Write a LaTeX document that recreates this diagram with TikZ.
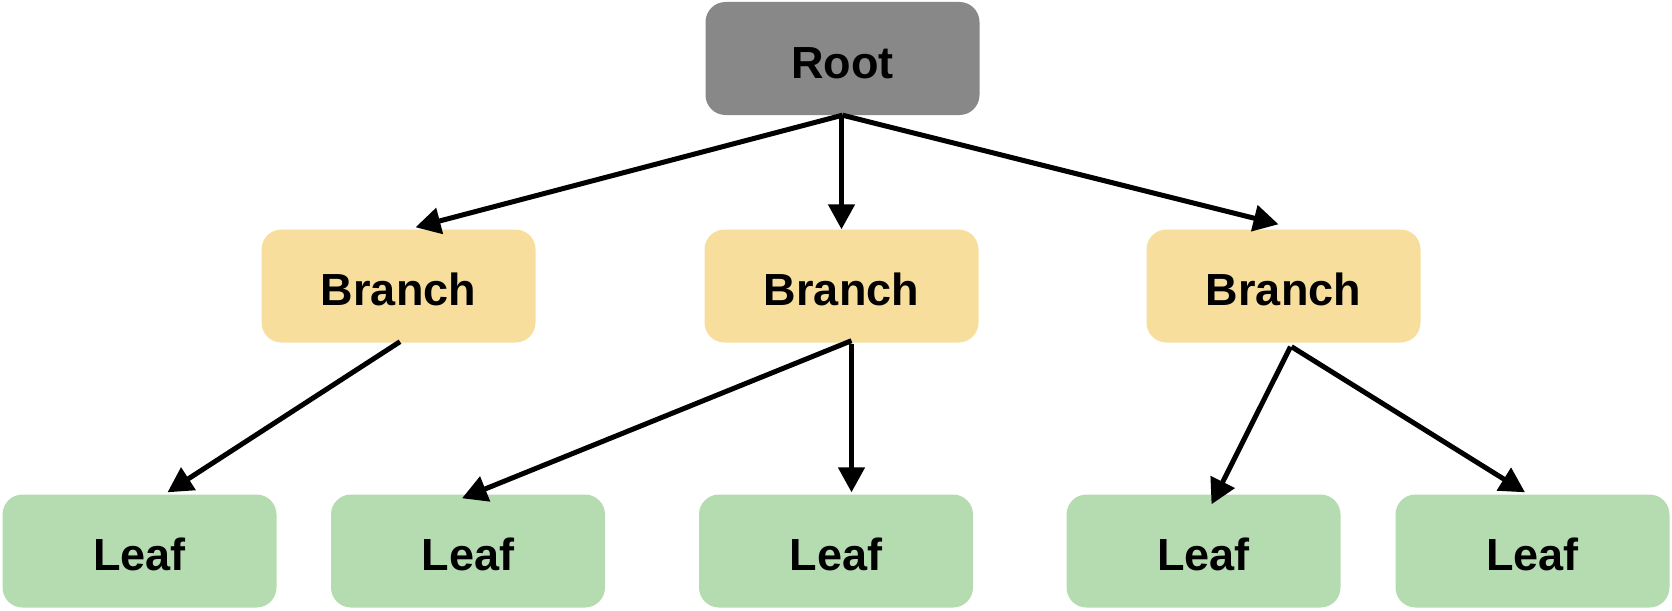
\documentclass[tikz,border=0pt]{standalone}
\usepackage{fontspec}
\setmainfont{Liberation Sans}
\usetikzlibrary{arrows.meta,calc}
\definecolor{rootgray}{HTML}{888888}
\definecolor{branchyel}{HTML}{F8DE9C}
\definecolor{leafgreen}{HTML}{B5DCB0}
\tikzset{
  box/.style={rectangle, rounded corners=20pt, minimum width=274pt, minimum height=113pt,
    inner sep=0pt, text height=39pt, text depth=0pt,
    font=\fontsize{45}{50}\selectfont\bfseries, text=black},
  rootbox/.style={box, fill=rootgray},
  branchbox/.style={box, fill=branchyel},
  leafbox/.style={box, fill=leafgreen},
  arr/.style={line width=5pt, -{Triangle[length=25pt,width=26pt]}}
}
\begin{document}
\begin{tikzpicture}[x=1pt,y=-1pt]
\useasboundingbox (0,0) rectangle (1672,610);
\node[rootbox] (R) at (842.5,58.5) {Root};
\node[branchbox] (B1) at (398.5,286) {Branch};
\node[branchbox] (B2) at (841.5,286) {Branch};
\node[branchbox] (B3) at (1283.5,286) {Branch};
\node[leafbox] (L1) at (139.5,551) {Leaf};
\node[leafbox] (L2) at (468,551) {Leaf};
\node[leafbox] (L3) at (836,551) {Leaf};
\node[leafbox] (L4) at (1203.5,551) {Leaf};
\node[leafbox] (L5) at (1532.5,551) {Leaf};
\draw[arr] (R.south) -- ($(B1.north)+(17,-2)$);
\draw[arr] ($(R.south)+(-1,0)$) -- (B2.north);
\draw[arr] (R.south) -- ($(B3.north)+(-5,-5)$);
\draw[arr] ($(B1.south)+(1.5,-1)$) -- ($(L1.north)+(28,-2)$);
\draw[arr] ($(B2.south)+(10,-2)$) -- ($(L2.north)+(-6,4)$);
\draw[arr] ($(B2.south)+(10,1)$) -- ($(L3.north)+(15.5,-2)$);
\draw[arr] ($(B3.south)+(7,4)$) -- ($(L4.north)+(8,10)$);
\draw[arr] ($(B3.south)+(8,4)$) -- ($(L5.north)+(-7.5,-2)$);
\end{tikzpicture}
\end{document}
